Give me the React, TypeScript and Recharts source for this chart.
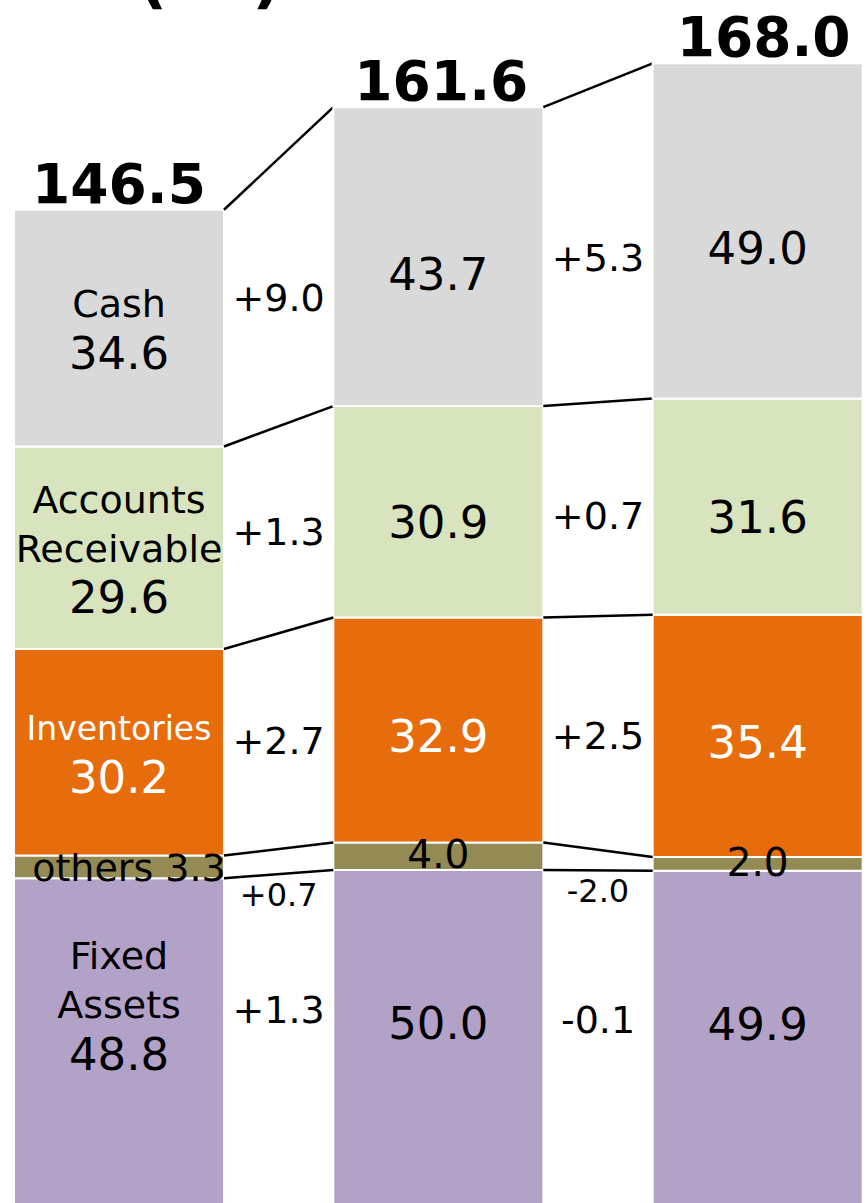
import React from "react";
import { BarChart, Bar, XAxis, YAxis } from "recharts";

const periods = ["FY1", "FY2", "FY3"];
const fixedAssets = [48.8, 50.0, 49.9];
const others = [3.3, 4.0, 2.0];
const inventories = [30.2, 32.9, 35.4];
const receivables = [29.6, 30.9, 31.6];
const cash = [34.6, 43.7, 49.0];
const totals = [146.5, 161.6, 168.0];
// change to the next period
const fixedChange = ["+1.3", "-0.1"];
const othersChange = ["+0.7", "-2.0"];
const inventoriesChange = ["+2.7", "+2.5"];
const receivablesChange = ["+1.3", "+0.7"];
const cashChange = ["+9.0", "+5.3"];

// stack order, bottom to top
const series = [
  { key: "fixed", values: fixedAssets, change: fixedChange, name: ["Fixed", "Assets"], fill: "#b3a2c7", ink: "#000", dy: -18, dy0: -41 },
  { key: "others", values: others, change: othersChange, name: ["others"], fill: "#948a54", ink: "#000", dy: -2, dy0: 0 },
  { key: "inventories", values: inventories, change: inventoriesChange, name: ["Inventories"], fill: "#e66c0c", ink: "#fff", dy: 6, dy0: 0 },
  { key: "receivables", values: receivables, change: receivablesChange, name: ["Accounts", "Receivable"], fill: "#d7e4bd", ink: "#000", dy: 10, dy0: 0 },
  { key: "cash", values: cash, change: cashChange, name: ["Cash"], fill: "#d9d9d9", ink: "#000", dy: 17, dy0: 0 },
];

const rows = periods.map((p, i) => {
  const r: Record<string, any> = { period: p };
  series.forEach((s) => (r[s.key] = s.values[i]));
  return r;
});

const CHART_W = 958;
const BAR_W = 210;
const GAP = CHART_W / periods.length - BAR_W;
const FONT = "DejaVu Sans";

function Column(props: any) {
  const { x, y, width, height, index } = props;
  const k = height / cash[index];
  let below = 0;
  series.forEach((s) => s.key !== "cash" && (below += s.values[index]));
  const base = y + height + below * k;

  const edges = (j: number) => {
    let cum = 0;
    return series.map((s) => {
      const bottom = base - cum * k;
      cum += s.values[j];
      return { top: base - cum * k, bottom };
    });
  };
  const labelY = (j: number, si: number) => {
    const e = edges(j)[si];
    const s = series[si];
    return (e.top + e.bottom) / 2 + (j === 0 ? s.dy0 : s.dy);
  };

  const cur = edges(index);
  const cx = x + width / 2;
  const out: React.ReactNode[] = [];

  out.push(<rect key="r" x={x} y={y} width={width} height={height} fill="#d9d9d9" stroke="#fff" strokeWidth={2} />);

  series.forEach((s, si) => {
    const cy = labelY(index, si);
    if (index === 0) {
      if (s.key === "others") {
        out.push(
          <text key={"l" + si} x={cx + 10} y={cy + 0.365 * 38} textAnchor="middle" fontSize={38} fontFamily={FONT} fill={s.ink}>
            {s.name[0] + " " + s.values[index].toFixed(1)}
          </text>
        );
      } else {
        const nameSize = s.key === "inventories" ? 33 : 38;
        const lines = [...s.name, s.values[index].toFixed(1)];
        lines.forEach((t, li) => {
          const fs = li === lines.length - 1 ? 45 : nameSize;
          const ly = cy + (li - (lines.length - 1) / 2) * 49;
          out.push(
            <text key={"l" + si + "_" + li} x={cx} y={ly + 0.365 * fs} textAnchor="middle" fontSize={fs} fontFamily={FONT} fill={s.ink}>
              {t}
            </text>
          );
        });
      }
    } else {
      const fs = s.key === "others" ? 39 : 45;
      out.push(
        <text key={"l" + si} x={cx} y={cy + 0.365 * fs} textAnchor="middle" fontSize={fs} fontFamily={FONT} fill={s.ink}>
          {s.values[index].toFixed(1)}
        </text>
      );
    }
  });

  if (index < periods.length - 1) {
    const next = edges(index + 1);
    const x1 = x + width;
    const x2 = x + width + GAP;
    const gx = x1 + GAP / 2;
    series.forEach((s, si) => {
      out.push(<line key={"c" + si} x1={x1} y1={cur[si].top} x2={x2} y2={next[si].top} stroke="#000" strokeWidth={2.5} />);
      let dyC: number;
      let fs = 38;
      if (s.key === "others") {
        dyC = (cur[0].top + next[0].top) / 2 + 20;
        fs = 32;
      } else {
        dyC = (labelY(index, si) + labelY(index + 1, si)) / 2 - 4;
      }
      out.push(
        <text key={"d" + si} x={gx} y={dyC + 0.365 * fs} textAnchor="middle" fontSize={fs} fontFamily={FONT} fill="#000">
          {s.change[index]}
        </text>
      );
    });
  }

  out.push(
    <text key="t" x={cx + index * 3} y={y - 7} textAnchor="middle" fontSize={55} fontWeight="bold" fontFamily={FONT} fill="#000">
      {totals[index].toFixed(1)}
    </text>
  );

  return <g>{out}</g>;
}

export default function App() {
  return (
    <div style={{ position: "fixed", left: 0, top: 0, width: 866, height: 1203, overflow: "hidden", background: "#fff" }}>
      <div style={{ position: "absolute", left: -41, top: 0 }}>
        <BarChart width={CHART_W} height={1230} data={rows} margin={{ top: 49, right: 0, bottom: 18, left: 0 }} barSize={BAR_W}>
          <XAxis dataKey="period" hide />
          <YAxis hide domain={[0, 170]} />
          {series.map((s) => (
            <Bar
              key={s.key}
              dataKey={s.key}
              stackId="bs"
              fill={s.fill}
              stroke="#fff"
              strokeWidth={2}
              isAnimationActive={false}
              shape={s.key === "cash" ? Column : undefined}
            />
          ))}
        </BarChart>
      </div>
      {/* title is cropped at the top edge, only the bottom of the brackets shows */}
      <svg width={866} height={20} style={{ position: "absolute", left: 0, top: 0 }}>
        <text x={138} y={1} fontWeight="bold" fontFamily={FONT} fill="#000">
          <tspan fontSize={64}>(</tspan>
          <tspan fontSize={40} dy={-10}>¥bn</tspan>
          <tspan fontSize={64} dy={10}>)</tspan>
        </text>
      </svg>
    </div>
  );
}
